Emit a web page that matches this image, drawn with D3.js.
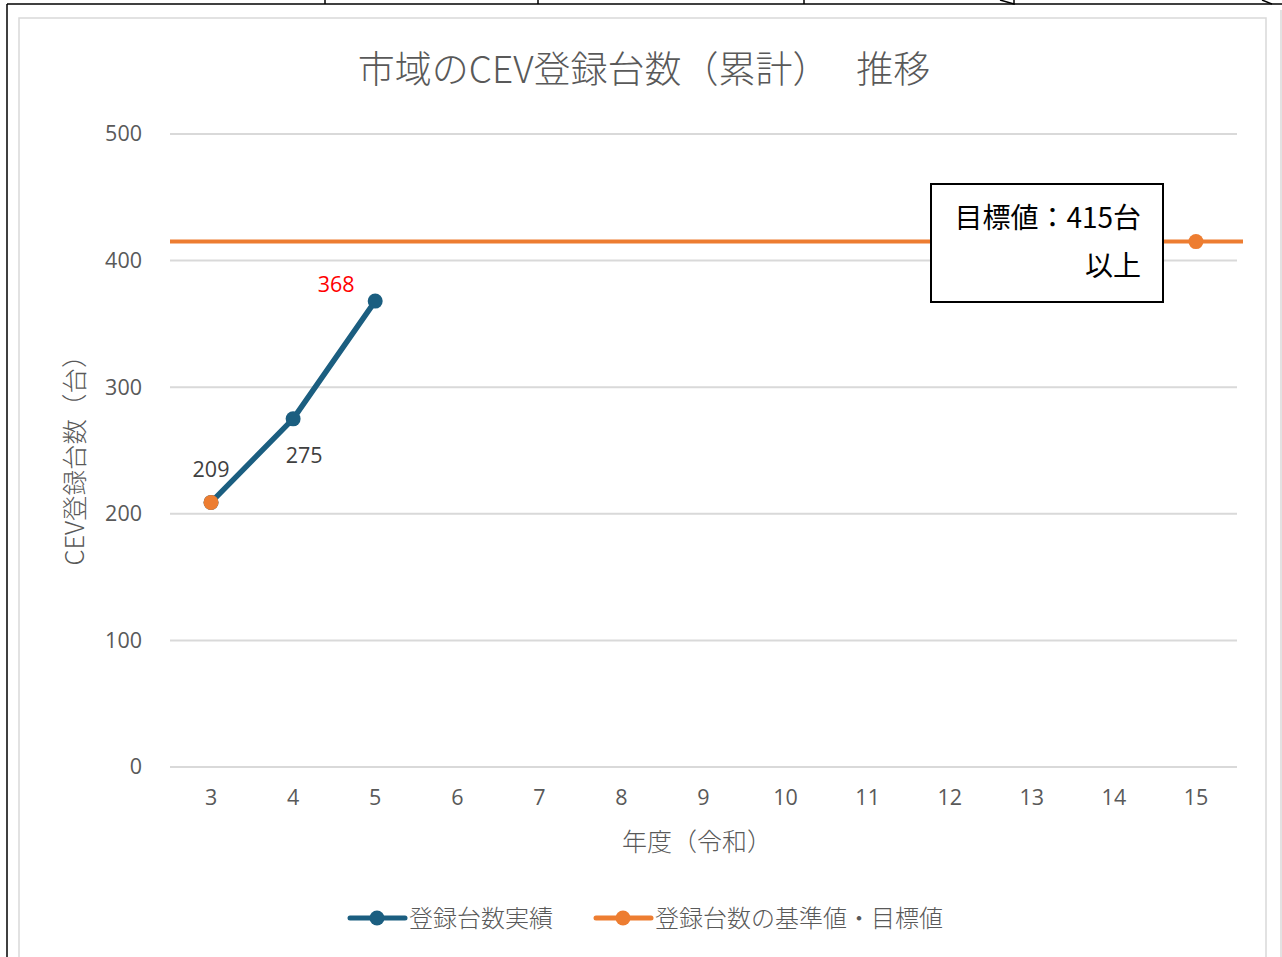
<!DOCTYPE html>
<html>
<head>
<meta charset="utf-8">
<script src="https://cdn.jsdelivr.net/npm/d3@7"></script>
<style>
  body { margin: 0; background: #fff; }
  svg { display: block; font-family: "Noto Sans CJK JP", "Noto Sans", sans-serif; }
</style>
</head>
<body>
<svg id="chart" width="1282" height="957"></svg>
<script>
// data
var years = ["3","4","5","6","7","8","9","10","11","12","13","14","15"];
var actualYears = ["3","4","5"];
var actualValues = [209, 275, 368];
var targetYears = ["3","15"];
var targetValues = [209, 415];
var targetLine = 415;
var yTicks = [0, 100, 200, 300, 400, 500];

var svg = d3.select("#chart");

// table lines of the page behind the chart
var pg = svg.append("g").attr("stroke", "#000").attr("stroke-width", 1.5);
pg.append("line").attr("x1", 7).attr("x2", 1282).attr("y1", 4).attr("y2", 4);
pg.append("line").attr("x1", 7).attr("x2", 7).attr("y1", 4).attr("y2", 957);
[325, 538, 804].forEach(function(x){
  pg.append("line").attr("x1", x).attr("x2", x).attr("y1", 0).attr("y2", 4);
});
pg.append("path").attr("fill","none").attr("d","M1000,0 L1014,4 L1014,0");
pg.append("path").attr("fill","none").attr("d","M1262,0 L1272,4");

// chart frame
svg.append("rect").attr("x", 19).attr("y", 18).attr("width", 1247).attr("height", 945)
  .attr("fill", "#fff").attr("stroke", "#d9d9d9").attr("stroke-width", 1.5);
svg.append("line").attr("x1", 1281).attr("x2", 1281).attr("y1", 10).attr("y2", 957)
  .attr("stroke", "#d9d9d9").attr("stroke-width", 1.5);

var pLeft = 170, pRight = 1237, pTop = 134, pBottom = 767;

var x = d3.scaleBand().domain(years).range([pLeft, pRight]);
var y = d3.scaleLinear().domain([0, 500]).range([pBottom, pTop]);
function cx(d){ return x(d) + x.bandwidth()/2; }

// grid
svg.append("g").selectAll("line").data(yTicks).enter().append("line")
  .attr("x1", pLeft).attr("x2", pRight)
  .attr("y1", function(d){ return y(d); }).attr("y2", function(d){ return y(d); })
  .attr("stroke", "#d9d9d9").attr("stroke-width", 2);

// y axis labels
var yAxis = d3.axisLeft(y).tickValues(yTicks).tickSize(0).tickPadding(0);
var ya = svg.append("g").attr("transform", "translate(142,0)").call(yAxis);
ya.select(".domain").remove();
ya.selectAll("text").attr("font-size", 21.5).attr("fill", "#595959")
  .attr("font-family", "'Open Sans', sans-serif");

// x axis labels
var xAxis = d3.axisBottom(x).tickSize(0).tickPadding(0);
var xa = svg.append("g").attr("transform", "translate(0,790)").call(xAxis);
xa.select(".domain").remove();
xa.selectAll("text").attr("font-size", 21.5).attr("fill", "#595959")
  .attr("font-family", "'Open Sans', sans-serif");

// titles
svg.append("text").attr("x", 644).attr("y", 83).attr("text-anchor", "middle")
  .attr("font-size", 37).attr("font-weight", 300).attr("fill", "#595959")
  .text("市域のCEV登録台数（累計）　 推移");
svg.append("text").attr("x", 697).attr("y", 851).attr("text-anchor", "middle")
  .attr("font-size", 25).attr("font-weight", 300).attr("fill", "#595959").text("年度（令和）");
svg.append("text").attr("transform", "translate(84,454) rotate(-90)").attr("text-anchor", "middle")
  .attr("font-size", 25.5).attr("font-weight", 300).attr("fill", "#595959").text("CEV登録台数（台）");

var blue = "#1b5e80", orange = "#ed7d31";

// target line
svg.append("line").attr("x1", pLeft).attr("x2", 1243)
  .attr("y1", y(targetLine)).attr("y2", y(targetLine))
  .attr("stroke", orange).attr("stroke-width", 4);

// actual series
var line = d3.line().x(function(d){ return cx(d[0]); }).y(function(d){ return y(d[1]); });
var actual = d3.zip(actualYears, actualValues);
svg.append("path").datum(actual).attr("d", line).attr("fill", "none")
  .attr("stroke", blue).attr("stroke-width", 5.5).attr("stroke-linejoin", "round");
svg.append("g").selectAll("circle").data(actual).enter().append("circle")
  .attr("cx", function(d){ return cx(d[0]); }).attr("cy", function(d){ return y(d[1]); })
  .attr("r", 7.5).attr("fill", blue);

// target markers
var target = d3.zip(targetYears, targetValues);
svg.append("g").selectAll("circle").data(target).enter().append("circle")
  .attr("cx", function(d){ return cx(d[0]); }).attr("cy", function(d){ return y(d[1]); })
  .attr("r", 7.5).attr("fill", orange);

// data labels
var labelOff = [[0, -25], [11, 44], [-39, -9]];
var labelCol = ["#404040", "#404040", "#ff0000"];
svg.append("g").selectAll("text").data(actual).enter().append("text")
  .attr("x", function(d, i){ return cx(d[0]) + labelOff[i][0]; })
  .attr("y", function(d, i){ return y(d[1]) + labelOff[i][1]; })
  .attr("text-anchor", "middle").attr("font-size", 21.5)
  .attr("font-family", "'Open Sans', sans-serif")
  .attr("fill", function(d, i){ return labelCol[i]; })
  .text(function(d){ return d[1]; });

// annotation box
svg.append("rect").attr("x", 931).attr("y", 184).attr("width", 232).attr("height", 118)
  .attr("fill", "#fff").attr("stroke", "#000").attr("stroke-width", 2);
var note = svg.append("text").attr("text-anchor", "end").attr("font-size", 28).attr("fill", "#000");
note.append("tspan").attr("x", 1141).attr("y", 228).text("目標値：" + targetLine + "台");
note.append("tspan").attr("x", 1141).attr("y", 276).text("以上");

// legend
var legend = [
  {name: "登録台数実績", color: blue, x: 350},
  {name: "登録台数の基準値・目標値", color: orange, x: 596}
];
var lg = svg.append("g").selectAll("g").data(legend).enter().append("g")
  .attr("transform", function(d){ return "translate(" + d.x + ",918)"; });
lg.append("line").attr("x1", 0).attr("x2", 55).attr("stroke", function(d){ return d.color; })
  .attr("stroke-width", 5).attr("stroke-linecap", "round");
lg.append("circle").attr("cx", 27).attr("r", 7.5).attr("fill", function(d){ return d.color; });
lg.append("text").attr("x", 59).attr("y", 9).attr("font-size", 24).attr("font-weight", 300)
  .attr("fill", "#595959").text(function(d){ return d.name; });
</script>
</body>
</html>
